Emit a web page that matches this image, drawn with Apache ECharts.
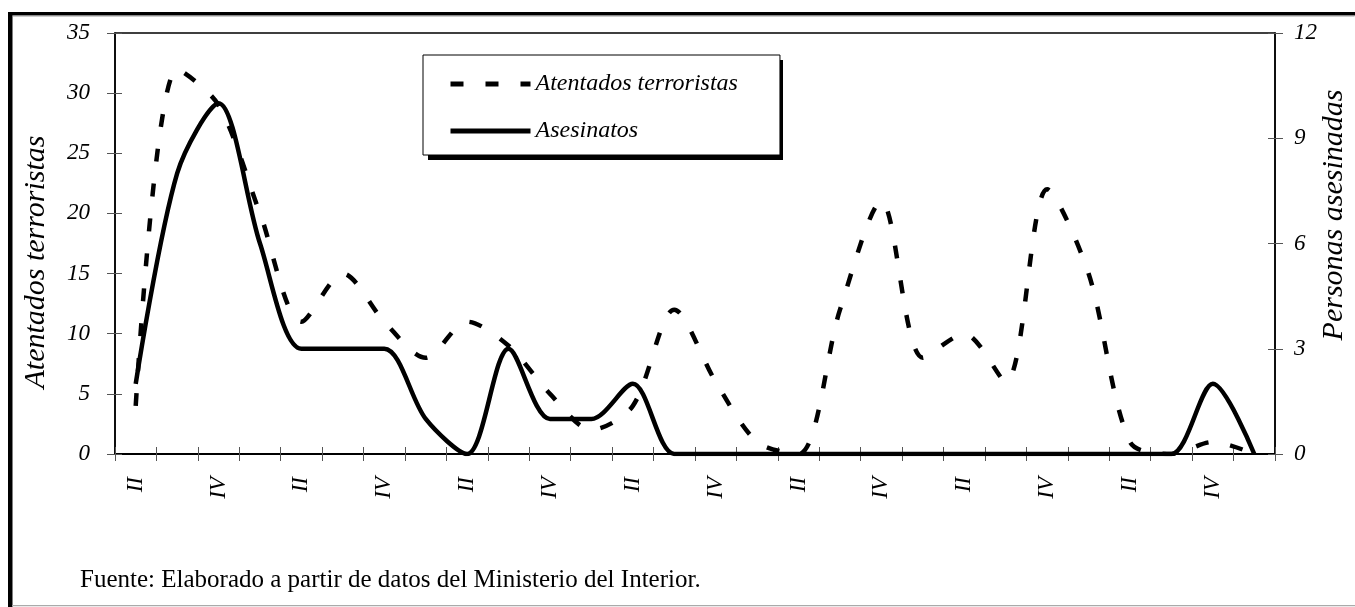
<!DOCTYPE html>
<html>
<head>
<meta charset="utf-8">
<script src="https://cdn.jsdelivr.net/npm/echarts@6/dist/echarts.min.js"></script>
<style>
html,body{margin:0;padding:0;background:#fff;}
#chart{width:1355px;height:607px;}
</style>
</head>
<body>
<div id="chart"></div>
<script>
// Quarters (label shown every other quarter: II, IV)
const quarters = ['II','III','IV','I','II','III','IV','I','II','III','IV','I','II','III','IV','I','II','III','IV','I','II','III','IV','I','II','III','IV','I'];
// Atentados terroristas (left axis)
const atentados = [4,32,29,20,11,15,11,8,11,9,5,2,4,12,6,1,0,12,21,8,10,6,22,15,1,0,1,0];
// Personas asesinadas (right axis)
const asesinatos = [2,8,10,6,3,3,3,1,0,3,1,1,2,0,0,0,0,0,0,0,0,0,0,0,0,0,2,0];
const leftTicks = {min:0, max:35, interval:5};
const rightTicks = {min:0, max:12, interval:3};

const SERIF = '"Liberation Serif", "Times New Roman", serif';
const chart = echarts.init(document.getElementById('chart'), null, {renderer:'canvas'});

const labelStyle = {fontFamily: SERIF, fontStyle:'italic', fontSize:23, color:'#000'};

chart.setOption({
  animation:false,
  backgroundColor:'#fff',
  grid:{left:115, right:80, top:33, bottom:153, show:true, borderColor:'#000', borderWidth:1.5, backgroundColor:'transparent'},
  legend:{
    data:['Atentados terroristas','Asesinatos'],
    orient:'vertical', left:423, top:55, z:10,
    itemWidth:80, itemHeight:14, itemGap:17,
    padding:[14,42,9,25],
    backgroundColor:'#fff', borderColor:'#000', borderWidth:1,
    itemStyle:{opacity:0, borderWidth:0},
    lineStyle:{width:5},
    textStyle:{fontFamily:SERIF, fontStyle:'italic', fontSize:24, lineHeight:30, color:'#000'}
  },
  xAxis:[
    {type:'category', position:'bottom', data:quarters, boundaryGap:true,
     axisLine:{show:true, lineStyle:{color:'#000', width:2}},
     axisTick:{show:true, interval:0, length:7, lineStyle:{color:'#555', width:1}},
     axisLabel:Object.assign({interval:1, rotate:90, margin:23}, labelStyle),
     splitLine:{show:false}},
    {type:'category', position:'bottom', data:quarters, boundaryGap:true,
     axisLine:{show:false},
     axisTick:{show:true, inside:true, interval:0, length:7, lineStyle:{color:'#555', width:1}},
     axisLabel:{show:false}, splitLine:{show:false}}
  ],
  yAxis:[
    Object.assign({type:'value', position:'left',
     axisLine:{show:true, lineStyle:{color:'#000', width:1.5}},
     axisTick:{show:true, length:8, lineStyle:{color:'#555', width:1}},
     axisLabel:Object.assign({margin:25}, labelStyle),
     splitLine:{show:false}}, leftTicks),
    Object.assign({type:'value', position:'right',
     axisLine:{show:true, lineStyle:{color:'#000', width:1.5}},
     axisTick:{show:true, length:8, lineStyle:{color:'#555', width:1}},
     axisLabel:Object.assign({margin:19}, labelStyle),
     splitLine:{show:false}}, rightTicks),
    Object.assign({type:'value', position:'left',
     axisLine:{show:false},
     axisTick:{show:true, inside:true, length:7, lineStyle:{color:'#555', width:1}},
     axisLabel:{show:false}, splitLine:{show:false}}, leftTicks),
    Object.assign({type:'value', position:'right',
     axisLine:{show:false},
     axisTick:{show:true, inside:true, length:7, lineStyle:{color:'#555', width:1}},
     axisLabel:{show:false}, splitLine:{show:false}}, rightTicks)
  ],
  series:[
    {name:'Atentados terroristas', type:'line', xAxisIndex:0, yAxisIndex:0, data:atentados,
     smooth:0.3, symbol:'none',
     lineStyle:{color:'#000', width:4.5, type:[13,22], cap:'butt'}, itemStyle:{color:'#000'}},
    {name:'Asesinatos', type:'line', xAxisIndex:0, yAxisIndex:1, data:asesinatos,
     smooth:0.3, symbol:'none',
     lineStyle:{color:'#000', width:4.5, type:'solid'}, itemStyle:{color:'#000'}}
  ],
  graphic:[
    {type:'rect', z:1, shape:{x:428, y:60, width:355, height:100}, style:{fill:'#000'}, silent:true},
    {type:'rect', shape:{x:8, y:12, width:4.5, height:595}, style:{fill:'#000'}, silent:true},
    {type:'rect', shape:{x:8, y:12, width:1347, height:3.5}, style:{fill:'#000'}, silent:true},
    {type:'rect', shape:{x:12.5, y:15.5, width:1342, height:1}, style:{fill:'#999'}, silent:true},
    {type:'rect', shape:{x:12, y:605, width:1343, height:1.2}, style:{fill:'#aaa'}, silent:true},
    {type:'text', x:36, y:262, rotation:Math.PI/2,
     style:{text:'Atentados terroristas', font:'italic 30px ' + SERIF, fill:'#000', align:'center', verticalAlign:'middle'}},
    {type:'text', x:1334, y:215, rotation:Math.PI/2,
     style:{text:'Personas asesinadas', font:'italic 30px ' + SERIF, fill:'#000', align:'center', verticalAlign:'middle'}},
    {type:'text', x:80, y:580,
     style:{text:'Fuente: Elaborado a partir de datos del Ministerio del Interior.', font:'25px ' + SERIF, fill:'#000', align:'left', verticalAlign:'middle'}}
  ]
});
</script>
</body>
</html>
